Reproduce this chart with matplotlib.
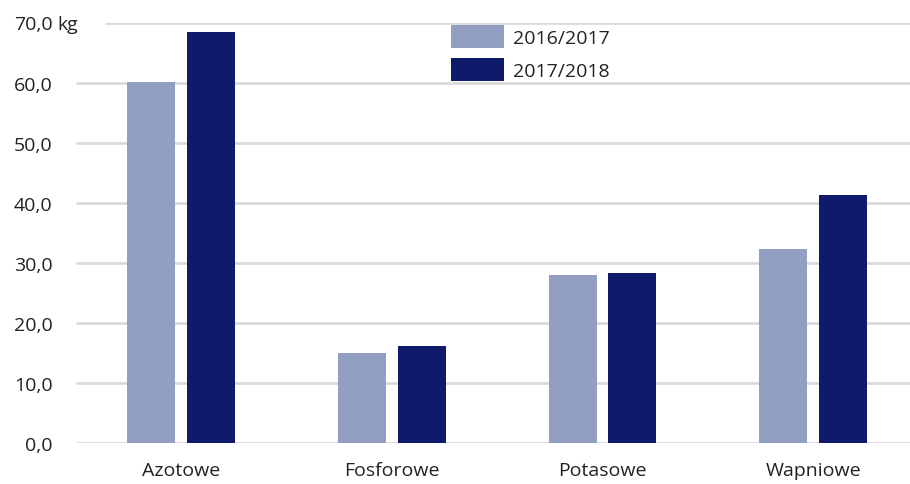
#!/usr/bin/env python3

"""
Bar chart: fertiliser use per category, 2016/2017 vs 2017/2018.
"""

import matplotlib

matplotlib.use("Agg")
import matplotlib.pyplot as plt
import numpy as np
from matplotlib.patches import Patch

categories = ["Azotowe", "Fosforowe", "Potasowe", "Wapniowe"]
season_labels = ["2016/2017", "2017/2018"]
values_2016 = [60.1, 15.0, 28.0, 32.3]
values_2017 = [68.5, 16.2, 28.3, 41.3]
y_ticks = [0, 10, 20, 30, 40, 50, 60, 70]
y_tick_labels = ["0,0", "10,0", "20,0", "30,0", "40,0", "50,0", "60,0", "70,0"]

LIGHT = "#929fc3"
DARK = "#0f1a6b"
GRID = "#d9d9d9"
TEXT = "#222222"
FS = 14

plt.rcParams["font.family"] = ["Open Sans", "DejaVu Sans"]

W, H = 910, 485
fig = plt.figure(figsize=(W / 100, H / 100), dpi=100)
ax = fig.add_axes([76 / W, 1 - 444 / H, (W - 76) / W, (444 - 23.5) / H])

x = np.arange(len(categories))
width = 0.228
offset = 0.142

# gridlines drawn by hand, top one starts after the "kg" label
for t in y_ticks:
    start = -0.36 if t == 70 else -0.5
    ax.hlines(t, start, 3.6, color=GRID, lw=1.9, zorder=1)

ax.bar(x - offset, values_2016, width, color=LIGHT, zorder=2)
ax.bar(x + offset, values_2017, width, color=DARK, zorder=2)

ax.set_xlim(-0.5, 3.46)
ax.set_ylim(0, 70)
ax.set_yticks(y_ticks)
ax.set_yticklabels(y_tick_labels)
ax.set_xticks(x)
ax.set_xticklabels(categories)
ax.tick_params(axis="y", length=0, pad=17, labelsize=FS, labelcolor=TEXT)
ax.tick_params(axis="x", length=0, pad=13, labelsize=FS, labelcolor=TEXT)
for s in ax.spines.values():
    s.set_visible(False)

ax.text(57 / W, 70, "kg", transform=ax.get_yaxis_transform().__class__(fig.transFigure, ax.transData),
        ha="left", va="center_baseline", fontsize=FS, color=TEXT)

handles = [Patch(facecolor=LIGHT), Patch(facecolor=DARK)]
fig.legend(
    handles,
    season_labels,
    loc="upper left",
    bbox_to_anchor=(451 / W, 1 - 26 / H),
    frameon=False,
    fontsize=FS,
    handlelength=2.75,
    handleheight=1.45,
    handletextpad=0.45,
    labelspacing=0.5,
    borderpad=0,
    borderaxespad=0,
    labelcolor=TEXT,
)

fig.savefig("out.png", dpi=100)
